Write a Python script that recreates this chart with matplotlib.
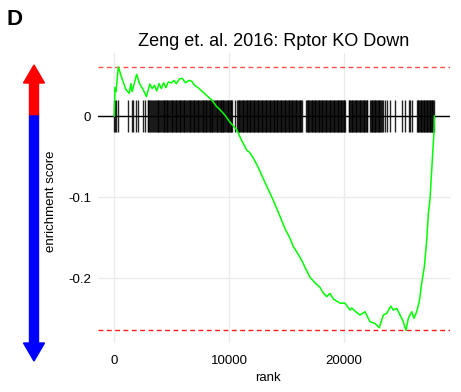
import matplotlib
matplotlib.use('Agg')
import matplotlib.pyplot as plt
from matplotlib.patches import Polygon

plt.rcParams['font.family'] = ['Liberation Sans', 'DejaVu Sans']
plt.rcParams['axes.unicode_minus'] = False

title = 'Zeng et. al. 2016: Rptor KO Down'

# running enrichment score
ranks = [0, 60, 150, 350, 700, 1000, 1300, 1450, 1550, 1700, 1950, 2200, 2500,
         2800, 3100, 3300, 3500, 3700, 3900, 4100, 4300, 4500, 4700, 5000, 5200,
         5400, 5700, 5930, 6200, 6500, 6750, 7000, 7300, 7620, 8000, 8490, 8900,
         9200, 9650, 10100, 10670, 11100, 11540, 11800, 12120, 12500, 12850,
         13200, 13570, 13860, 14450, 14880, 15320, 15600, 16000, 16340, 16700,
         17060, 17500, 17930, 18200, 18520, 18800, 19100, 19680, 20110, 20550,
         20700, 21000, 21420, 21860, 22290, 22730, 23100, 23450, 23750, 24100,
         24320, 24620, 24910, 25140, 25430, 25630, 25930, 26130, 26360, 26590,
         26800, 27030, 27240, 27380, 27520, 27700, 27870, 27900]
es = [0.0, 0.035, 0.03, 0.0605, 0.045, 0.033, 0.028, 0.040, 0.030, 0.038, 0.0515,
      0.040, 0.033, 0.024, 0.0395, 0.034, 0.038, 0.031, 0.040, 0.034, 0.041,
      0.035, 0.042, 0.041, 0.044, 0.040, 0.046, 0.0465, 0.041, 0.044, 0.043,
      0.038, 0.035, 0.031, 0.026, 0.020, 0.012, 0.008, 0.001, -0.008, -0.017,
      -0.030, -0.042, -0.045, -0.052, -0.062, -0.073, -0.084, -0.095, -0.104,
      -0.124, -0.139, -0.151, -0.161, -0.170, -0.178, -0.189, -0.199, -0.206,
      -0.2115, -0.218, -0.223, -0.219, -0.226, -0.231, -0.231, -0.2395, -0.237,
      -0.241, -0.2457, -0.2416, -0.254, -0.256, -0.2615, -0.2457, -0.2436,
      -0.2346, -0.2395, -0.2375, -0.2457, -0.252, -0.2646, -0.2498, -0.2416,
      -0.2498, -0.2416, -0.229, -0.2066, -0.186, -0.153, -0.120, -0.1035,
      -0.06, -0.02, 0.0]

# positions of the gene set members in the ranked list (estimated)
hits = [0, 50, 130, 300, 1220, 1510, 1660, 1870, 2040, 2470, 2680,
        2910, 3030, 3200, 3400, 3550, 3700, 3840, 4010, 4130, 4290, 4420, 4560,
        4700, 4820, 4990, 5110, 5290, 5400, 5570, 5690, 5850, 5960, 6120, 6280,
        6390, 6560, 6700, 6830, 6990, 7100, 7260, 7380, 7540, 7690, 7800, 7960,
        8080, 8230, 8370, 8490, 8640, 8760, 8920, 9050, 9190, 9330, 9450, 9600,
        9730, 9880, 10010, 10150, 10250, 10500,
        10720, 10830, 10980, 11110, 11260, 11390, 11530, 11680, 11800, 11950,
        12090, 12220, 12370, 12500, 12650, 12780, 12920, 13060, 13190, 13340,
        13470, 13610, 13740, 13880, 14010, 14150, 14300, 14440, 14560, 14700,
        14850, 14980, 15120, 15260, 15400, 15530, 15680, 15810, 15950, 16080,
        16220, 16330,
        16720, 16850, 16990, 17130, 17260, 17400, 17540, 17680, 17810, 17950,
        18090, 18220, 18360, 18500, 18640, 18770, 18910, 19050, 19190, 19330,
        19460, 19600, 19730, 19870, 20000, 20100,
        20420, 20560, 20690, 20830, 20970, 21110, 21240, 21380, 21520, 21660,
        21800, 21930, 22050,
        22300, 22430, 22570, 22700, 22840, 22980, 23120, 23250, 23400, 23580,
        23750, 24040, 24470, 25060, 25340, 25650, 25780, 25930,
        26380, 26500, 26630, 26760, 26890, 27020, 27150, 27280, 27410, 27540,
        27670, 27790,
        # in-between members of the dense stretches
        2970, 3110, 3300, 3480, 3620, 3770, 3920, 4070, 4210, 4350, 4490, 4630,
        4760, 4900, 5050, 5200, 5340, 5480, 5630, 5770, 5900, 6040, 6200, 6330,
        6470, 6630, 6760, 6910, 7050, 7180, 7320, 7460, 7610, 7740, 7880, 8020,
        8150, 8300, 8430, 8560, 8700, 8840, 8980, 9120, 9260, 9390, 9520, 9660,
        9800, 9940, 10080, 10200,
        10770, 10900, 11040, 11180, 11320, 11460, 11600, 11740, 11870, 12020,
        12150, 12290, 12430, 12570, 12710, 12850, 12990, 13120, 13260, 13400,
        13540, 13670, 13810, 13950, 14080, 14220, 14370, 14500, 14630, 14780,
        14910, 15050, 15190, 15330, 15460, 15600, 15740, 15880, 16010, 16150,
        16280,
        16790, 16920, 17060, 17200, 17330, 17470, 17610, 17740, 17880, 18020,
        18150, 18290, 18430, 18570, 18700, 18840, 18980, 19120, 19260, 19400,
        19530, 19670, 19800, 19940, 20050,
        20490, 20620, 20760, 20900, 21040, 21170, 21310, 21450, 21590, 21730,
        21860, 21990,
        22370, 22500, 22630, 22770, 22910, 23050, 23180, 23320,
        26440, 26570, 26700, 26830, 26960, 27090, 27220, 27350, 27480, 27610,
        27730, 27840]

x_ticks = [0, 10000, 20000]
y_ticks = [0, -0.1, -0.2]
y_ticklabels = ['0', '-0.1', '-0.2']

W, H = 461, 392
fig = plt.figure(figsize=(W / 100, H / 100), dpi=100)
ax = fig.add_axes([98 / W, 1 - 343 / H, 352 / W, 290 / H])

top, bottom = max(es), min(es)
diff = (top - bottom) / 8

ax.axhline(top, color='red', ls=(0, (3.5, 2.5)), lw=1, alpha=0.7, zorder=2)
ax.axhline(bottom, color='red', ls=(0, (3.5, 2.5)), lw=1, alpha=0.9, zorder=2)
ax.axhline(0, color='black', lw=1, zorder=3)
ax.vlines(hits, -diff / 2, diff / 2, color='black', lw=1.0, alpha=0.85, zorder=3)
ax.plot(ranks, es, color='#00ff00', lw=1.1, zorder=4)

ax.set_xlim(-1421, 29267)
ax.set_ylim(-0.2802, 0.0778)
ax.set_xticks(x_ticks)
ax.set_yticks(y_ticks)
ax.set_yticklabels(y_ticklabels)
ax.grid(True, color='#ebebeb', lw=1)
ax.set_axisbelow(True)
for s in ax.spines.values():
    s.set_visible(False)
ax.tick_params(axis='y', length=0, pad=5, labelsize=9.5, labelcolor='black')
ax.tick_params(axis='x', length=0, pad=9, labelsize=9.5, labelcolor='black')

ax.set_title(title, fontsize=13, pad=5)
ax.set_xlabel('rank', fontsize=9.5)
ax.xaxis.set_label_coords(0.484, -0.1)
ax.set_ylabel('enrichment score', fontsize=9.5)
ax.yaxis.set_label_coords(-0.117, 0.49)

fig.text(6 / W, 1 - 25 / H, 'D', fontsize=16, fontweight='bold')


# up / down arrow on the left side
def fpt(x, y):
    return (x / W, 1 - y / H)


cx, sw, hw = 34, 4.5, 10.5
red = [fpt(cx, 65), fpt(cx + hw, 83), fpt(cx + sw, 83), fpt(cx + sw, 116),
       fpt(cx - sw, 116), fpt(cx - sw, 83), fpt(cx - hw, 83)]
blue = [fpt(cx, 361), fpt(cx + hw, 343), fpt(cx + sw, 343), fpt(cx + sw, 116),
        fpt(cx - sw, 116), fpt(cx - sw, 343), fpt(cx - hw, 343)]
fig.patches.append(Polygon(red, closed=True, color='red', transform=fig.transFigure))
fig.patches.append(Polygon(blue, closed=True, color='blue', transform=fig.transFigure))

fig.savefig('out.png', dpi=100)
